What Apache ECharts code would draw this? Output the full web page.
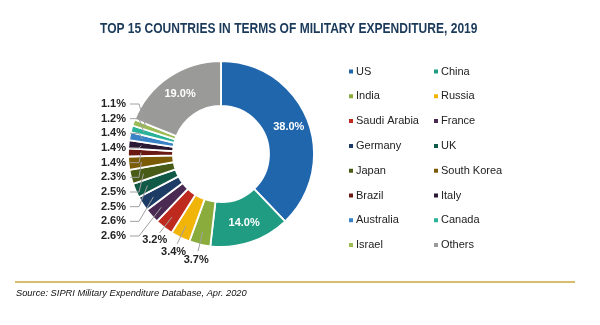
<!DOCTYPE html>
<html><head><meta charset="utf-8">
<script src="https://cdn.jsdelivr.net/npm/echarts@6/dist/echarts.min.js"></script>
<style>html,body{margin:0;padding:0;background:#fff}#c{width:600px;height:325px}</style>
</head><body><div id="c"></div>
<script>
const categories = ['US','China','India','Russia','Saudi Arabia','France','Germany','UK','Japan','South Korea','Brazil','Italy','Australia','Canada','Israel','Others'];
const shares = [38.0,14.0,3.7,3.4,3.2,2.6,2.6,2.5,2.5,2.3,1.4,1.4,1.4,1.2,1.1,19.0];
const colors = ['#1f66ad','#1f9c82','#8aac3c','#f1b50a','#bf2a1f','#4a2a52','#1c3c66','#115a48','#485c18','#7b5b06','#6a1a12','#2b1832','#3a82c6','#2bb399','#9bbb55','#9a9a98'];
const insideLabels = ['US','China','Others'];
const bottomLabels = ['India','Russia','Saudi Arabia'];
const leftLegend = categories.filter((c,i)=>i%2===0);
const rightLegend = categories.filter((c,i)=>i%2===1);

// layout constants (style, not data)
const CX = 221, CY = 154, R_IN = 48, R_OUT = 93;
const total = shares.reduce((a,b)=>a+b,0);
const midAngle = shares.map((s,i)=>{
  const before = shares.slice(0,i).reduce((a,b)=>a+b,0);
  return (before + s/2)/total*2*Math.PI;
});
const pt = (a,r)=>[CX + r*Math.sin(a), CY - r*Math.cos(a)];
const leftNames = categories.filter(c=>!insideLabels.includes(c) && !bottomLabels.includes(c));
const LEFT_TOP = 104, LEFT_BOTTOM = 236, LEFT_RIGHT = 126;
const leftY = name => LEFT_BOTTOM - leftNames.indexOf(name)*(LEFT_BOTTOM-LEFT_TOP)/(leftNames.length-1);

// leader lines, derived from the slice angles
const leaders = categories.map((c,i)=>{
  if (insideLabels.includes(c)) return null;
  const a = midAngle[i];
  let pts;
  if (bottomLabels.includes(c)) pts = [pt(a,80), pt(a,100)];
  else { const y = leftY(c); pts = [pt(a,80), [LEFT_RIGHT+13, y], [LEFT_RIGHT+4, y]]; }
  return {type:'polyline', z:100, silent:true, shape:{points:pts}, style:{stroke:'#a0a0a0', lineWidth:1, fill:null}};
}).filter(Boolean);

const chart = echarts.init(document.getElementById('c'), null, {renderer:'canvas'});
const data = categories.map((c,i)=>{
  const inside = insideLabels.includes(c);
  return {
    name:c, value:shares[i],
    itemStyle:{color:colors[i]},
    label: inside ? {position:'inside', color:'#fff', fontWeight:'bold', fontSize:11} : {position:'outside'},
    labelLine:{show:false}
  };
});
const legendCommon = {
  orient:'vertical', itemWidth:6, itemHeight:6, itemGap:13.8, icon:'rect',
  textStyle:{fontSize:11, color:'#222', fontFamily:'Arial, Liberation Sans', padding:[0,0,0,-3]}
};
chart.setOption({
  animation:false,
  legend:[
    Object.assign({left:342, top:61, data:leftLegend}, legendCommon),
    Object.assign({left:427, top:61, data:rightLegend}, legendCommon)
  ],
  graphic:[
    {type:'text', x:100, y:21, scaleX:0.802, style:{text:'TOP 15 COUNTRIES IN TERMS OF MILITARY EXPENDITURE, 2019', font:'bold 15px Liberation Sans, Arial', fill:'#1b3a5a'}},
    {type:'line', shape:{x1:15,y1:282,x2:575,y2:282}, style:{stroke:'#c9a93e', lineWidth:1.5}},
    {type:'text', left:16, top:289, style:{text:'Source: SIPRI Military Expenditure Database, Apr. 2020', font:'italic 9.3px Arial, Liberation Sans', fill:'#111'}}
  ].concat(leaders),
  series:[{
    type:'pie', center:[CX,CY], radius:[R_IN,R_OUT], startAngle:90, clockwise:true,
    itemStyle:{borderColor:'#fff', borderWidth:1.8},
    label:{formatter:p=>p.value.toFixed(1)+'%', fontSize:11, fontWeight:'bold', color:'#222', fontFamily:'Arial, Liberation Sans'},
    labelLayout:function(p){
      const name = categories[p.dataIndex];
      const a = midAngle[p.dataIndex];
      if (insideLabels.includes(name)) {
        const q = pt(a, 73);
        return {x:q[0], y:q[1], align:'center', verticalAlign:'middle'};
      }
      if (bottomLabels.includes(name)) {
        const q = pt(a, 108);
        return {x:q[0], y:q[1]+1, align:'center', verticalAlign:'middle'};
      }
      return {x:LEFT_RIGHT, y:leftY(name), align:'right', verticalAlign:'middle'};
    },
    data:data
  }]
});
</script></body></html>
